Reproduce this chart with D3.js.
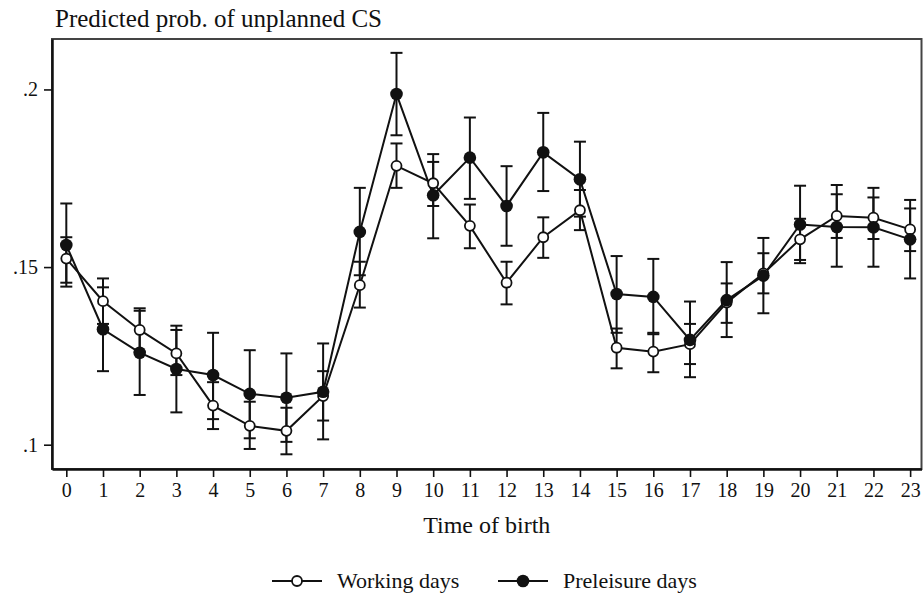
<!DOCTYPE html>
<html>
<head>
<meta charset="utf-8">
<script src="https://cdn.jsdelivr.net/npm/d3@7"></script>
<style>
  body { margin: 0; background: #fff; }
  svg { display: block; font-family: "Liberation Serif", "Times New Roman", serif; }
</style>
</head>
<body>
<svg id="chart" width="923" height="597"></svg>
<script>
// hour of birth
var hours = [0, 1, 2, 3, 4, 5, 6, 7, 8, 9, 10, 11, 12, 13, 14, 15, 16, 17, 18, 19, 20, 21, 22, 23];

// working days (hollow markers)
var working   = [0.1524, 0.1404, 0.1323, 0.1257, 0.1110, 0.1053, 0.1039, 0.1137, 0.1449, 0.1785, 0.1736, 0.1616,
                 0.1456, 0.1584, 0.1660, 0.1273, 0.1262, 0.1283, 0.1400, 0.1482, 0.1578, 0.1644, 0.1639, 0.1606];
var workingLo = [0.1456, 0.1340, 0.1262, 0.1196, 0.1044, 0.0988, 0.0973, 0.1068, 0.1386, 0.1723, 0.1672, 0.1553,
                 0.1395, 0.1526, 0.1604, 0.1215, 0.1204, 0.1227, 0.1343, 0.1426, 0.1520, 0.1582, 0.1579, 0.1545];
var workingHi = [0.1584, 0.1468, 0.1384, 0.1323, 0.1176, 0.1121, 0.1104, 0.1207, 0.1515, 0.1848, 0.1796, 0.1676,
                 0.1515, 0.1640, 0.1717, 0.1327, 0.1315, 0.1340, 0.1454, 0.1539, 0.1636, 0.1705, 0.1696, 0.1665];

// preleisure days (filled markers)
var preleisure = [0.1562, 0.1325, 0.1259, 0.1213, 0.1196, 0.1143, 0.1132, 0.1149, 0.1599, 0.1987, 0.1702, 0.1808,
                  0.1672, 0.1823, 0.1747, 0.1424, 0.1416, 0.1295, 0.1407, 0.1476, 0.1620, 0.1613, 0.1612, 0.1578];
var preleisureLo = [0.1445, 0.1207, 0.1140, 0.1091, 0.1072, 0.1018, 0.1008, 0.1015, 0.1477, 0.1871, 0.1581, 0.1692,
                    0.1560, 0.1714, 0.1642, 0.1315, 0.1311, 0.1190, 0.1303, 0.1370, 0.1511, 0.1501, 0.1501, 0.1468];
var preleisureHi = [0.1679, 0.1443, 0.1377, 0.1335, 0.1315, 0.1266, 0.1257, 0.1285, 0.1723, 0.2103, 0.1818, 0.1921,
                    0.1784, 0.1934, 0.1853, 0.1531, 0.1523, 0.1403, 0.1514, 0.1582, 0.1729, 0.1731, 0.1723, 0.1689];

var yTicks = [0.1, 0.15, 0.2];
var yTickLabels = [".1", ".15", ".2"];

var svg = d3.select("#chart");

var plotL = 52, plotR = 921.5, plotT = 39, plotB = 469;

var x = d3.scaleLinear().domain([-0.39, 23.31]).range([plotL, plotR]);
var y = d3.scaleLinear().domain([0.09316, 0.2142]).range([plotB, plotT]);

// plot region border
svg.append("rect")
    .attr("x", plotL).attr("y", plotT)
    .attr("width", plotR - plotL).attr("height", plotB - plotT)
    .attr("fill", "none")
    .attr("stroke", "#444")
    .attr("stroke-width", 2);

// axes
var yAxis = d3.axisLeft(y)
    .tickValues(yTicks)
    .tickFormat(function(d, i){ return yTickLabels[i]; })
    .tickSize(8)
    .tickPadding(6)
    .tickSizeOuter(0);

var xAxis = d3.axisBottom(x)
    .tickValues(hours)
    .tickFormat(d3.format("d"))
    .tickSize(8)
    .tickPadding(6)
    .tickSizeOuter(0);

var gy = svg.append("g")
    .attr("transform", "translate(" + plotL + ",0)")
    .call(yAxis);

var gx = svg.append("g")
    .attr("transform", "translate(0," + plotB + ")")
    .call(xAxis);

[gx, gy].forEach(function(g){
    g.select(".domain").attr("stroke", "#111").attr("stroke-width", 2.5);
    g.selectAll(".tick line").attr("stroke", "#111").attr("stroke-width", 1.6);
    g.selectAll(".tick text")
        .attr("fill", "#111")
        .style("font-family", "'Liberation Serif', 'Times New Roman', serif")
        .style("font-size", "20px");
});
gx.selectAll(".tick text").attr("dy", "0.72em");

// series
var series = [
    {name: "Working days", vals: working, lo: workingLo, hi: workingHi, filled: false},
    {name: "Preleisure days", vals: preleisure, lo: preleisureLo, hi: preleisureHi, filled: true}
];

var capW = 6;

series.forEach(function(s){
    var g = svg.append("g");
    hours.forEach(function(h, i){
        g.append("line")
            .attr("x1", x(h)).attr("x2", x(h))
            .attr("y1", y(s.lo[i])).attr("y2", y(s.hi[i]))
            .attr("stroke", "#111").attr("stroke-width", 2);
        [s.lo[i], s.hi[i]].forEach(function(v){
            g.append("line")
                .attr("x1", x(h) - capW).attr("x2", x(h) + capW)
                .attr("y1", y(v)).attr("y2", y(v))
                .attr("stroke", "#111").attr("stroke-width", 2);
        });
    });
});

var line = d3.line()
    .x(function(d){ return x(d[0]); })
    .y(function(d){ return y(d[1]); });

series.forEach(function(s){
    svg.append("path")
        .datum(hours.map(function(h, i){ return [h, s.vals[i]]; }))
        .attr("d", line)
        .attr("fill", "none")
        .attr("stroke", "#111")
        .attr("stroke-width", 2);
});

series.forEach(function(s){
    svg.append("g")
        .selectAll("circle")
        .data(hours)
        .enter()
        .append("circle")
        .attr("cx", function(h){ return x(h); })
        .attr("cy", function(h, i){ return y(s.vals[i]); })
        .attr("r", s.filled ? 6.3 : 5)
        .attr("fill", s.filled ? "#111" : "#fff")
        .attr("stroke", "#111")
        .attr("stroke-width", s.filled ? 0 : 1.8);
});

// titles
svg.append("text")
    .attr("x", 55).attr("y", 27)
    .style("font-size", "25px")
    .attr("fill", "#111")
    .text("Predicted prob. of unplanned CS");

svg.append("text")
    .attr("x", (plotL + plotR) / 2).attr("y", 533)
    .attr("text-anchor", "middle")
    .style("font-size", "24px")
    .attr("fill", "#111")
    .text("Time of birth");

// legend
var legend = [
    {name: "Working days", filled: false, x0: 272, tx: 337},
    {name: "Preleisure days", filled: true, x0: 498, tx: 563}
];
var ly = 581;
legend.forEach(function(l){
    svg.append("line")
        .attr("x1", l.x0).attr("x2", l.x0 + 50)
        .attr("y1", ly).attr("y2", ly)
        .attr("stroke", "#111").attr("stroke-width", 2);
    svg.append("circle")
        .attr("cx", l.x0 + 25).attr("cy", ly)
        .attr("r", l.filled ? 6.3 : 5)
        .attr("fill", l.filled ? "#111" : "#fff")
        .attr("stroke", "#111")
        .attr("stroke-width", l.filled ? 0 : 1.8);
    svg.append("text")
        .attr("x", l.tx).attr("y", ly + 7)
        .style("font-size", "22px")
        .attr("fill", "#111")
        .text(l.name);
});
</script>
</body>
</html>
